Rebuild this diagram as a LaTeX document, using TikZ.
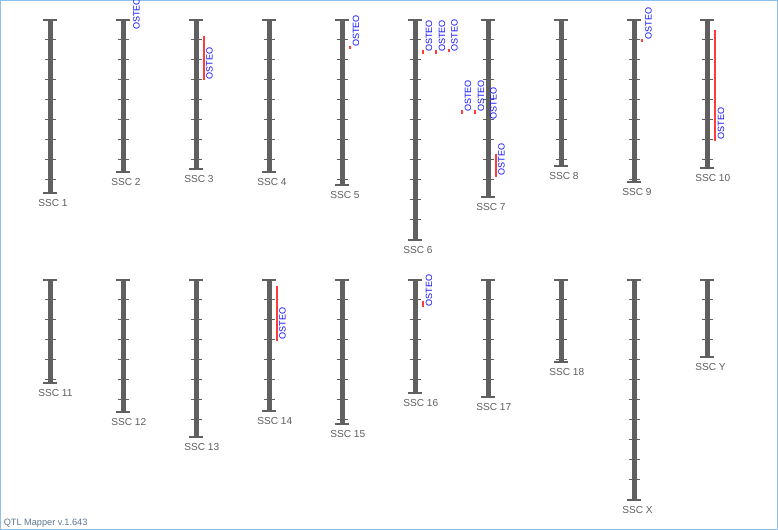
\documentclass[tikz,border=0pt]{standalone}
\usepackage{fontspec}
\setmainfont{Liberation Sans}
\definecolor{chrgray}{HTML}{606060}
\definecolor{lblgray}{HTML}{5E5E5E}
\definecolor{qtlred}{HTML}{FF3B3B}
\definecolor{osteoblue}{HTML}{1010FF}
\definecolor{framecol}{HTML}{8DC0EA}
\definecolor{footcol}{HTML}{5F7590}
\newcommand\chrom[6]{%
  \draw[chrbar] (#2,#3) -- (#2,#4);
  \draw[chrcap] (#2-7,#3) -- (#2+7,#3) (#2-7,#4) -- (#2+7,#4);
  \foreach \k in {1,...,#5} \draw[chrtick] (#2-5.5,#3+20*\k) -- (#2+5.5,#3+20*\k);
  \node[chrlabel] (#1) at (#2-12,#4+10.5) {#6};
}
\newcommand\qtlbar[3]{\draw[qtlline] (#1,#2) -- (#1,#3);}
\newcommand\osteo[3]{\node[osteo] (#3) at (#1,#2) {OSTEO};}
\begin{document}
\begin{tikzpicture}[x=0.75pt,y=-0.75pt,
  chrbar/.style={draw=chrgray,line width=3.75pt},
  chrcap/.style={draw=chrgray,line width=1.1pt},
  chrtick/.style={draw=chrgray,line width=0.75pt},
  chrlabel/.style={text=lblgray,font=\fontsize{7.6pt}{8pt}\selectfont,inner sep=0pt,anchor=west},
  qtlline/.style={draw=qtlred,line width=1.5pt},
  osteo/.style={text=osteoblue,font=\fontsize{6.8pt}{7pt}\selectfont,rotate=90,anchor=west,inner sep=0pt},
  frame/.style={draw=framecol,line width=0.75pt},
  footer/.style={text=footcol,font=\fontsize{6.9pt}{7pt}\selectfont,anchor=base west,inner sep=0pt}]
\useasboundingbox (0,0) rectangle (778,530);
\draw[frame] (0.5,0.5) rectangle (777.5,529.5);
% top row
\chrom{c1}{50}{20}{193}{8}{SSC 1}
\chrom{c2}{123}{20}{172}{7}{SSC 2}
\chrom{c3}{196}{20}{169}{7}{SSC 3}
\chrom{c4}{269}{20}{172}{7}{SSC 4}
\chrom{c5}{342}{20}{185}{8}{SSC 5}
\chrom{c6}{415}{20}{240}{10}{SSC 6}
\chrom{c7}{488}{20}{197}{8}{SSC 7}
\chrom{c8}{561}{20}{166}{7}{SSC 8}
\chrom{c9}{634}{20}{182}{8}{SSC 9}
\chrom{c10}{707}{20}{168}{7}{SSC 10}
% bottom row
\chrom{c11}{50}{280}{383}{5}{SSC 11}
\chrom{c12}{123}{280}{412}{6}{SSC 12}
\chrom{c13}{196}{280}{437}{7}{SSC 13}
\chrom{c14}{269}{280}{411}{6}{SSC 14}
\chrom{c15}{342}{280}{424}{7}{SSC 15}
\chrom{c16}{415}{280}{393}{5}{SSC 16}
\chrom{c17}{488}{280}{397}{5}{SSC 17}
\chrom{c18}{561}{280}{362}{4}{SSC 18}
\chrom{cX}{634}{280}{500}{10}{SSC X}
\chrom{cY}{707}{280}{357}{3}{SSC Y}
% QTL segments
\qtlbar{203.5}{36.5}{80.5}
\qtlbar{350}{46}{49.5}
\qtlbar{423}{50.5}{54}
\qtlbar{436}{50.5}{54}
\qtlbar{449}{49.5}{52.5}
\qtlbar{462}{110.5}{114}
\qtlbar{475}{110.5}{114}
\qtlbar{496}{154}{177}
\qtlbar{642}{39}{42.5}
\qtlbar{715}{30}{141}
\qtlbar{277}{286.5}{341}
\qtlbar{423}{301.5}{307.5}
% QTL labels
\osteo{136.5}{30}{q2}
\osteo{209.5}{79.5}{q3}
\osteo{356}{47}{q5}
\osteo{429}{52}{q6a}
\osteo{442}{52}{q6b}
\osteo{454.5}{51.5}{q6c}
\osteo{468}{112}{q7a}
\osteo{481}{112}{q7b}
\osteo{493.5}{119.5}{q7c}
\osteo{501.5}{175.5}{q7d}
\osteo{648.5}{39.5}{q9}
\osteo{721}{139.5}{q10}
\osteo{282.5}{339.5}{q14}
\osteo{429}{306.5}{q16}
\node[footer] (foot) at (3.5,525.5) {QTL Mapper v.1.643};
\end{tikzpicture}
\end{document}
